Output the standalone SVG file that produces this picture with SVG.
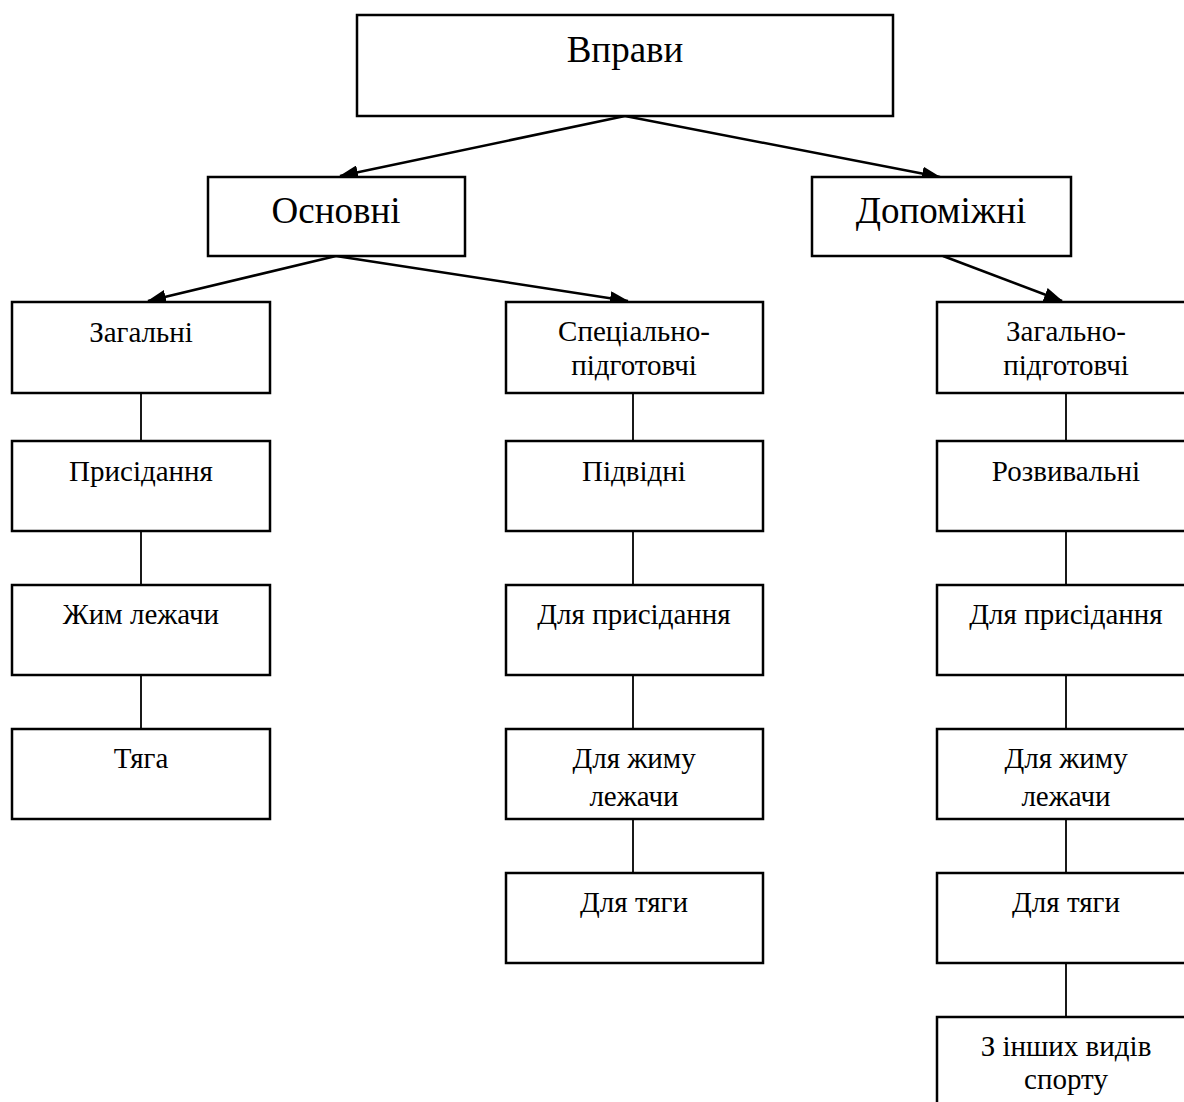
<svg xmlns="http://www.w3.org/2000/svg" width="1184" height="1102" viewBox="0 0 1184 1102">
<style>
.box{fill:#fff;stroke:#000;stroke-width:2.5}
.t{font-family:"Liberation Serif","Times New Roman",serif;fill:#000;text-anchor:middle}
.big{font-size:37px}
.sm{font-size:29px}
.arr{stroke:#000;stroke-width:2.5;fill:none;marker-end:url(#ah)}
.ln{stroke:#000;stroke-width:1.8;fill:none}
</style>
<defs>
<marker id="ah" markerWidth="20" markerHeight="14" refX="18" refY="7" orient="auto" markerUnits="userSpaceOnUse">
<path d="M0,0 L19,7 L0,14 Z" fill="#000"/>
</marker>
</defs>
<rect width="1184" height="1102" fill="#fff"/>
<g id="connectors">
<line class="arr" x1="625" y1="116" x2="340" y2="176"/>
<line class="arr" x1="625" y1="116" x2="940" y2="177"/>
<line class="arr" x1="336" y1="256" x2="148" y2="301"/>
<line class="arr" x1="336" y1="256" x2="628" y2="301"/>
<line class="arr" x1="943" y1="256" x2="1062" y2="301"/>
<line class="ln" x1="141" y1="393" x2="141" y2="441"/>
<line class="ln" x1="141" y1="531" x2="141" y2="585"/>
<line class="ln" x1="141" y1="675" x2="141" y2="729"/>
<line class="ln" x1="633" y1="393" x2="633" y2="441"/>
<line class="ln" x1="633" y1="531" x2="633" y2="585"/>
<line class="ln" x1="633" y1="675" x2="633" y2="729"/>
<line class="ln" x1="633" y1="819" x2="633" y2="873"/>
<line class="ln" x1="1066" y1="393" x2="1066" y2="441"/>
<line class="ln" x1="1066" y1="531" x2="1066" y2="585"/>
<line class="ln" x1="1066" y1="675" x2="1066" y2="729"/>
<line class="ln" x1="1066" y1="819" x2="1066" y2="873"/>
<line class="ln" x1="1066" y1="963" x2="1066" y2="1017"/>
</g>
<g id="vpravy"><rect class="box" x="357" y="15" width="536" height="101"/><text class="t big" x="625" y="62">Вправи</text></g>
<g id="osnovni"><rect class="box" x="208" y="177" width="257" height="79"/><text class="t big" x="336" y="223">Основні</text></g>
<g id="dopomizhni"><rect class="box" x="812" y="177" width="259" height="79"/><text class="t big" x="941" y="223">Допоміжні</text></g>
<g id="zagalni"><rect class="box" x="12" y="302" width="258" height="91"/><text class="t sm" x="141" y="342">Загальні</text></g>
<g id="spec"><rect class="box" x="506" y="302" width="257" height="91"/><text class="t sm" x="634" y="341">Спеціально-</text><text class="t sm" x="634" y="375">підготовчі</text></g>
<g id="zagpid"><rect class="box" x="937" y="302" width="257" height="91"/><text class="t sm" x="1066" y="341">Загально-</text><text class="t sm" x="1066" y="375">підготовчі</text></g>
<g id="prysid"><rect class="box" x="12" y="441" width="258" height="90"/><text class="t sm" x="141" y="481">Присідання</text></g>
<g id="pidvidni"><rect class="box" x="506" y="441" width="257" height="90"/><text class="t sm" x="634" y="481">Підвідні</text></g>
<g id="rozvyv"><rect class="box" x="937" y="441" width="257" height="90"/><text class="t sm" x="1066" y="481">Розвивальні</text></g>
<g id="zhym"><rect class="box" x="12" y="585" width="258" height="90"/><text class="t sm" x="141" y="624">Жим лежачи</text></g>
<g id="dlyaprys1"><rect class="box" x="506" y="585" width="257" height="90"/><text class="t sm" x="634" y="624">Для присідання</text></g>
<g id="dlyaprys2"><rect class="box" x="937" y="585" width="257" height="90"/><text class="t sm" x="1066" y="624">Для присідання</text></g>
<g id="tyaga"><rect class="box" x="12" y="729" width="258" height="90"/><text class="t sm" x="141" y="768">Тяга</text></g>
<g id="dlyazhym1"><rect class="box" x="506" y="729" width="257" height="90"/><text class="t sm" x="634" y="768">Для жиму</text><text class="t sm" x="634" y="806">лежачи</text></g>
<g id="dlyazhym2"><rect class="box" x="937" y="729" width="257" height="90"/><text class="t sm" x="1066" y="768">Для жиму</text><text class="t sm" x="1066" y="806">лежачи</text></g>
<g id="dlyatyagy1"><rect class="box" x="506" y="873" width="257" height="90"/><text class="t sm" x="634" y="912">Для тяги</text></g>
<g id="dlyatyagy2"><rect class="box" x="937" y="873" width="257" height="90"/><text class="t sm" x="1066" y="912">Для тяги</text></g>
<g id="inshi"><rect class="box" x="937" y="1017" width="257" height="100"/><text class="t sm" x="1066" y="1056">З інших видів</text><text class="t sm" x="1066" y="1089">спорту</text></g>
</svg>
